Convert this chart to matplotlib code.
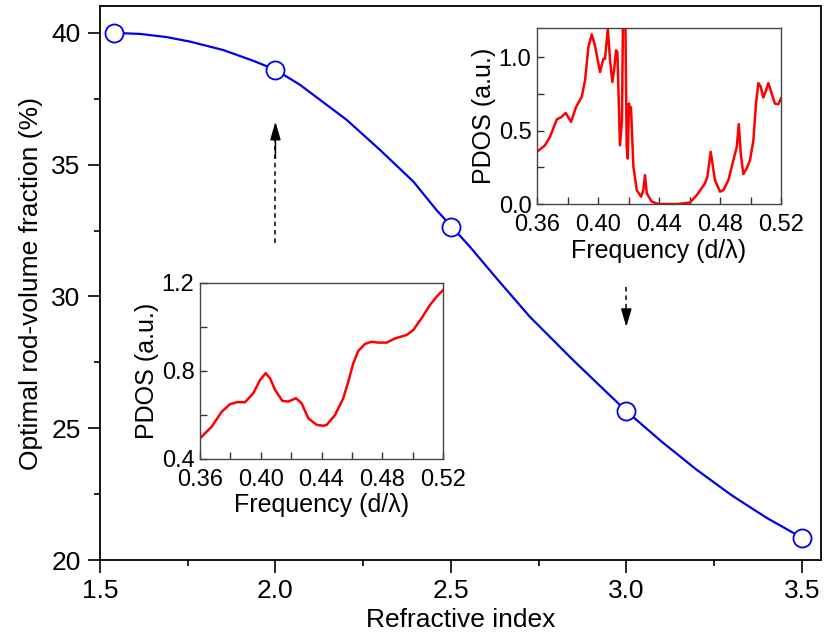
import matplotlib
matplotlib.use("Agg")
import matplotlib.pyplot as plt
from matplotlib.ticker import MultipleLocator, FormatStrFormatter

plt.rcParams['font.family'] = ['Liberation Sans', 'DejaVu Sans']

# main curve: simulated points
n_pts = [1.54, 2.0, 2.5, 3.0, 3.5]
f_pts = [40.0, 38.6, 32.65, 25.65, 20.85]

# smooth line
n_line = [1.54, 1.614, 1.69, 1.756, 1.851, 1.937, 2.0, 2.07, 2.127, 2.203, 2.298,
          2.393, 2.459, 2.502, 2.554, 2.63, 2.725, 2.848, 3.0, 3.1, 3.2, 3.3, 3.4, 3.5]
f_line = [40.0, 39.96, 39.84, 39.67, 39.35, 38.94, 38.6, 38.03, 37.46, 36.7, 35.56,
          34.36, 33.28, 32.65, 31.89, 30.69, 29.23, 27.59, 25.65, 24.5, 23.43, 22.46, 21.6, 20.85]

# PDOS inset, n = 3.0 (upper right)
fr_a = [0.36, 0.3652, 0.3685, 0.3729, 0.3761, 0.3788, 0.3823, 0.3856, 0.3893, 0.3915,
        0.3937, 0.3959, 0.398, 0.4013, 0.4035, 0.4046, 0.4064, 0.4079, 0.4094, 0.4105,
        0.4118, 0.4127, 0.4144, 0.4157, 0.4166, 0.4177, 0.4188, 0.4195, 0.4203, 0.421,
        0.4216, 0.4232, 0.4254, 0.4282, 0.4297, 0.4308, 0.432, 0.4352, 0.4396, 0.445,
        0.452, 0.4603, 0.4647, 0.4701, 0.4717, 0.4739, 0.4767, 0.48, 0.4822, 0.4855,
        0.4888, 0.491, 0.4923, 0.4936, 0.4953, 0.4975, 0.4997, 0.5019, 0.5036, 0.5052,
        0.5067, 0.5084, 0.5102, 0.5117, 0.5139, 0.516, 0.5182, 0.52]
pd_a = [0.356, 0.40, 0.458, 0.576, 0.594, 0.621, 0.56, 0.662, 0.73, 0.844,
        1.07, 1.157, 1.08, 0.90, 0.99, 0.99, 1.195, 0.98, 0.832, 0.91,
        1.048, 1.036, 0.40, 0.57, 1.5, 1.5, 0.39, 0.31, 0.685, 0.62,
        0.66, 0.254, 0.095, 0.05, 0.095, 0.197, 0.073, 0.016, 0.0, 0.0,
        0.0, 0.01, 0.06, 0.14, 0.186, 0.356, 0.163, 0.084, 0.095, 0.163,
        0.30, 0.39, 0.544, 0.345, 0.204, 0.243, 0.30, 0.435, 0.685, 0.825,
        0.80, 0.726, 0.775, 0.825, 0.753, 0.685, 0.68, 0.72]

# PDOS inset, n = 2.0 (lower left)
fr_b = [0.36, 0.3677, 0.3743, 0.3797, 0.3842, 0.3896, 0.3951, 0.3995, 0.4032, 0.4061,
        0.4094, 0.4142, 0.4181, 0.4232, 0.4269, 0.4313, 0.4368, 0.4412, 0.4434, 0.4489,
        0.4543, 0.4576, 0.4609, 0.4642, 0.4686, 0.473, 0.4774, 0.4829, 0.4884, 0.4961,
        0.5004, 0.5059, 0.5114, 0.5158, 0.52]
pd_b = [0.494, 0.547, 0.615, 0.649, 0.658, 0.658, 0.699, 0.759, 0.79, 0.767,
        0.714, 0.664, 0.661, 0.676, 0.653, 0.585, 0.555, 0.551, 0.555, 0.60,
        0.676, 0.751, 0.835, 0.891, 0.923, 0.933, 0.929, 0.929, 0.948, 0.964,
        0.986, 1.04, 1.10, 1.138, 1.168]

fig = plt.figure(figsize=(8.29, 6.43), dpi=100)
ax = fig.add_axes([0.1206, 0.129, 0.8694, 0.8617])
ax.plot(n_line, f_line, color='#0000ee', lw=1.6, zorder=2)
ax.plot(n_pts, f_pts, 'o', ms=13, mfc='white', mec='#0000ee', mew=1.3, zorder=3)
ax.set_xlim(1.5, 3.554)
ax.set_ylim(20, 41.02)
ax.xaxis.set_major_locator(MultipleLocator(0.5))
ax.xaxis.set_minor_locator(MultipleLocator(0.25))
ax.yaxis.set_major_locator(MultipleLocator(5))
ax.yaxis.set_minor_locator(MultipleLocator(2.5))
ax.xaxis.set_major_formatter(FormatStrFormatter('%.1f'))
ax.tick_params(which='both', direction='out', labelsize=19, width=1.2, top=False, right=False)
ax.tick_params(which='major', length=9, pad=5)
ax.tick_params(which='minor', length=4.5)
for s in ax.spines.values():
    s.set_linewidth(1.3)
ax.set_xlabel('Refractive index', fontsize=19, labelpad=3)
ax.set_ylabel('Optimal rod-volume fraction (%)', fontsize=19, labelpad=6)

# dashed arrows pointing from inset to curve point
for x0, y0, y1 in [(2.0, 32.03, 36.63), (3.0, 30.37, 28.84)]:
    ax.plot([x0, x0], [y0, y1 - (y1 - y0) * 0.15], ls=(0, (3, 2.5)), color='k', lw=1.1)
    ax.annotate('', xy=(x0, y1), xytext=(x0, y1 - (y1 - y0) * 0.3),
                arrowprops=dict(arrowstyle='-|>,head_length=1.1,head_width=0.32',
                                color='k', lw=1.1, shrinkA=0, shrinkB=0))


def style_inset(a):
    a.set_xlim(0.36, 0.52)
    a.xaxis.set_major_locator(MultipleLocator(0.04))
    a.xaxis.set_minor_locator(MultipleLocator(0.02))
    a.xaxis.set_major_formatter(FormatStrFormatter('%.2f'))
    a.tick_params(which='both', direction='in', length=5, width=1, labelsize=17,
                  top=False, right=False, colors='#333333', labelcolor='black')
    a.tick_params(axis='x', pad=7)
    a.tick_params(axis='y', pad=4)
    for s in a.spines.values():
        s.set_linewidth(1)
        s.set_color('#444444')
    a.set_xlabel('Frequency (d/λ)', fontsize=18, labelpad=2)
    a.set_ylabel('PDOS (a.u.)', fontsize=18, labelpad=2)


ins1 = fig.add_axes([0.6478, 0.6827, 0.2943, 0.2737])
ins1.plot(fr_a, pd_a, color='#ff0000', lw=1.8)
style_inset(ins1)
ins1.set_ylim(0, 1.2)
ins1.yaxis.set_major_locator(MultipleLocator(0.5))
ins1.yaxis.set_minor_locator(MultipleLocator(0.25))
ins1.yaxis.set_major_formatter(FormatStrFormatter('%.1f'))

ins2 = fig.add_axes([0.2413, 0.2862, 0.2931, 0.2737])
ins2.plot(fr_b, pd_b, color='#ff0000', lw=1.8)
style_inset(ins2)
ins2.set_ylim(0.4, 1.2)
ins2.yaxis.set_major_locator(MultipleLocator(0.4))
ins2.yaxis.set_minor_locator(MultipleLocator(0.2))
ins2.yaxis.set_major_formatter(FormatStrFormatter('%.1f'))

fig.savefig('out.png', dpi=100)
